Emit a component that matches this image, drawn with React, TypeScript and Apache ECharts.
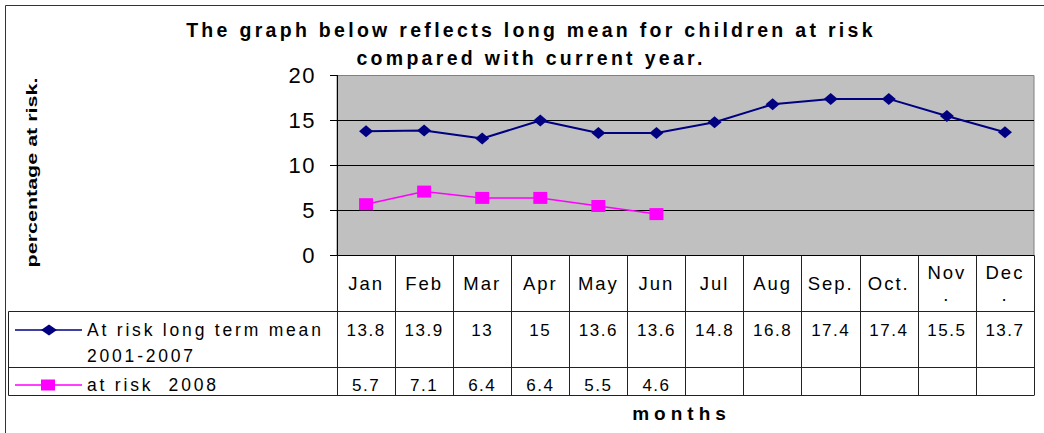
import React, { useEffect, useRef } from 'react';
import * as echarts from 'echarts';

const months = ['Jan', 'Feb', 'Mar', 'Apr', 'May', 'Jun', 'Jul', 'Aug', 'Sep.', 'Oct.', 'Nov\n.', 'Dec\n.'];
const longTermMean = [13.8, 13.9, 13, 15, 13.6, 13.6, 14.8, 16.8, 17.4, 17.4, 15.5, 13.7];
const risk2008 = [5.7, 7.1, 6.4, 6.4, 5.5, 4.6];
const seriesNames = ['At risk long term mean\n2001-2007', 'at risk  2008'];
const titleLines = ['The graph below reflects long mean for children at risk', 'compared with current year.'];
const yAxisTitle = 'percentage at risk.';
const xAxisTitle = 'months';
const yMin = 0;
const yMax = 20;
const yStep = 5;

const FONT = 'Liberation Sans';

const css = `
body{margin:0}
#c text[style*="17.5px"]{letter-spacing:2.8px}
#c text[style*="17px"]{letter-spacing:1.5px}
#c text[style*="19.5px"]{letter-spacing:3.3px}
#c text[style*="18.5px"]{letter-spacing:2px}
#c text[style*="19px"]{letter-spacing:5px}
#c text[style*="22px"]{letter-spacing:1.5px}
`;

export default function App() {
  const ref = useRef<HTMLDivElement>(null);
  useEffect(() => {
    const chart = echarts.init(ref.current!, null, { renderer: 'svg' });
    chart.setOption({
      animation: false,
      grid: {
        left: 337,
        top: 75.5,
        right: 10,
        height: 180,
        show: true,
        backgroundColor: '#C0C0C0',
        borderColor: '#808080',
        borderWidth: 1,
      },
      xAxis: {
        type: 'category',
        data: months,
        boundaryGap: true,
        axisLine: { lineStyle: { color: '#000', width: 1 } },
        axisTick: { show: true, interval: 0, length: 140, lineStyle: { color: '#222', width: 1 } },
        axisLabel: {
          interval: 0,
          margin: 28,
          verticalAlign: 'middle',
          fontFamily: FONT,
          fontSize: 18.5,
          lineHeight: 22,
          color: '#000',
        },
      },
      yAxis: {
        type: 'value',
        min: yMin,
        max: yMax,
        interval: yStep,
        axisLine: { show: true, lineStyle: { color: '#000' } },
        axisTick: { show: true, length: 7, lineStyle: { color: '#000' } },
        axisLabel: { margin: 21, fontFamily: FONT, fontSize: 22, color: '#000' },
        splitLine: { show: true, showMaxLine: false, lineStyle: { color: '#000', width: 1 } },
      },
      series: [
        {
          type: 'line',
          name: seriesNames[0],
          data: longTermMean,
          symbol: 'diamond',
          symbolSize: [14, 12],
          itemStyle: { color: '#000080' },
          lineStyle: { color: '#000080', width: 2 },
        },
        {
          type: 'line',
          name: seriesNames[1],
          data: risk2008,
          symbol: 'rect',
          symbolSize: [14, 12],
          itemStyle: { color: '#FF00FF' },
          lineStyle: { color: '#FF00FF', width: 1.5 },
        },
      ],
    });

    const cx = months.map((_, i) => chart.convertToPixel({ xAxisIndex: 0 }, i) as number);
    const half = (cx[1] - cx[0]) / 2;
    const right = cx[cx.length - 1] + half;
    const tableLeft = 8.5;
    const rowLines = [311.5, 367.5, 395.5];
    const row1Y = 330;
    const row2Y = 385;
    const lineColor = '#222';

    const graphic: any[] = [];
    graphic.push({
      type: 'rect',
      shape: { x: 5.5, y: 5.5, width: 1060, height: 460 },
      style: { fill: 'none', stroke: '#333', lineWidth: 1 },
      silent: true,
    });
    rowLines.forEach((y) => {
      graphic.push({
        type: 'line',
        shape: { x1: tableLeft, y1: y, x2: right, y2: y },
        style: { stroke: lineColor, lineWidth: 1 },
      });
    });
    graphic.push({
      type: 'line',
      shape: { x1: tableLeft, y1: rowLines[0], x2: tableLeft, y2: rowLines[2] },
      style: { stroke: lineColor, lineWidth: 1 },
    });
    // title
    graphic.push({
      type: 'text',
      x: 531,
      y: 29.7,
      style: { text: titleLines[0], fontFamily: FONT, fontSize: 19.5, fontWeight: 'bold', fill: '#000', textAlign: 'center', textVerticalAlign: 'middle' },
    });
    graphic.push({
      type: 'text',
      x: 531,
      y: 57.5,
      style: { text: titleLines[1], fontFamily: FONT, fontSize: 19.5, fontWeight: 'bold', fill: '#000', textAlign: 'center', textVerticalAlign: 'middle' },
    });
    // y axis title
    graphic.push({
      type: 'text',
      x: 32.7,
      y: 172.5,
      rotation: Math.PI / 2,
      scaleY: 0.66,
      style: { text: yAxisTitle, fontFamily: FONT, fontSize: 21.5, fontWeight: 'bold', fill: '#000', textAlign: 'center', textVerticalAlign: 'middle' },
    });
    // x axis title
    graphic.push({
      type: 'text',
      x: (cx[0] - half + right) / 2 - 4,
      y: 413.3,
      style: { text: xAxisTitle, fontFamily: FONT, fontSize: 19, fontWeight: 'bold', fill: '#000', textAlign: 'center', textVerticalAlign: 'middle' },
    });
    // legend keys
    graphic.push({ type: 'line', shape: { x1: 15, y1: row1Y, x2: 82, y2: row1Y }, style: { stroke: '#000080', lineWidth: 1.5 } });
    graphic.push({
      type: 'polygon',
      shape: { points: [[41, row1Y], [49, row1Y - 5.5], [57, row1Y], [49, row1Y + 5.5]] },
      style: { fill: '#000080' },
    });
    graphic.push({ type: 'line', shape: { x1: 15, y1: row2Y, x2: 82, y2: row2Y }, style: { stroke: '#FF00FF', lineWidth: 1.5 } });
    graphic.push({ type: 'rect', shape: { x: 41, y: row2Y - 5.5, width: 14, height: 11 }, style: { fill: '#FF00FF' } });
    graphic.push({
      type: 'text',
      x: 87,
      y: (row1Y + row1Y + 26) / 2,
      style: { text: seriesNames[0], fontFamily: FONT, fontSize: 17.5, lineHeight: 26, fill: '#000', textAlign: 'left', textVerticalAlign: 'middle' },
    });
    graphic.push({
      type: 'text',
      x: 87,
      y: row2Y,
      style: { text: seriesNames[1], fontFamily: FONT, fontSize: 17.5, fill: '#000', textAlign: 'left', textVerticalAlign: 'middle' },
    });
    // table values
    longTermMean.forEach((v, i) => {
      graphic.push({
        type: 'text',
        x: cx[i],
        y: row1Y,
        style: { text: String(v), fontFamily: FONT, fontSize: 17, fill: '#000', textAlign: 'center', textVerticalAlign: 'middle' },
      });
    });
    risk2008.forEach((v, i) => {
      graphic.push({
        type: 'text',
        x: cx[i],
        y: row2Y,
        style: { text: String(v), fontFamily: FONT, fontSize: 17, fill: '#000', textAlign: 'center', textVerticalAlign: 'middle' },
      });
    });

    chart.setOption({ graphic });
    return () => chart.dispose();
  }, []);
  return (
    <>
      <style>{css}</style>
      <div id="c" ref={ref} style={{ width: 1044, height: 433 }} />
    </>
  );
}
